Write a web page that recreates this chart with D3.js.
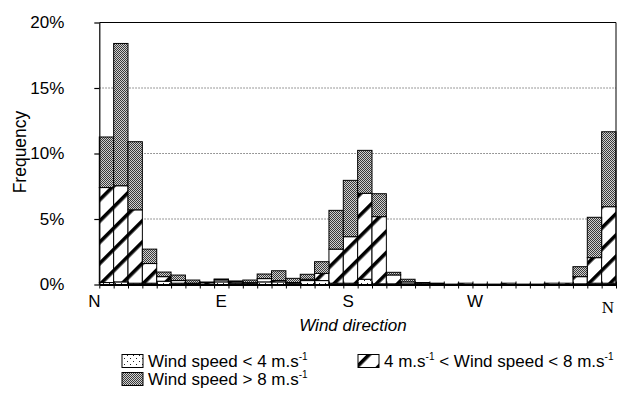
<!DOCTYPE html>
<html>
<head>
<meta charset="utf-8">
<script src="https://cdn.jsdelivr.net/npm/d3@7"></script>
<style>
  body { margin: 0; background: #fff; }
  svg { display: block; }
  text { font-family: "Liberation Sans", Arial, Helvetica, sans-serif; fill: #000; }
</style>
</head>
<body>
<svg id="chart" width="627" height="397"></svg>
<script>
// Wind direction sectors (start of each 10° bin)
const directionBins = [0, 10, 20, 30, 40, 50, 60, 70, 80, 90, 100, 110,
  120, 130, 140, 150, 160, 170, 180, 190, 200, 210, 220, 230,
  240, 250, 260, 270, 280, 290, 300, 310, 320, 330, 340, 350];
const binWidth = 10;

// Frequency (%) per sector for each wind-speed class
const speedLow = [0.15, 0.2, 0.1, 0.1, 0.25, 0.1, 0.05, 0.02, 0.2, 0.1, 0.1, 0.2,
  0.2, 0.1, 0.3, 0.3, 0.1, 0.1, 0.4, 0.05, 0.05, 0.05, 0, 0,
  0, 0, 0, 0, 0, 0, 0, 0, 0, 0.05, 0.1, 0.1];
const speedMid = [7.25, 7.34, 5.6, 1.5, 0.35, 0.2, 0.05, 0.12, 0.15, 0.1, 0.04, 0.25,
  0.1, 0.05, 0.1, 0.55, 2.6, 3.55, 6.56, 5.13, 0.68, 0.15, 0.1, 0.08,
  0.03, 0.1, 0.03, 0.03, 0.1, 0.03, 0.03, 0.1, 0.1, 0.55, 1.95, 5.84];
const speedHigh = [3.86, 10.86, 5.2, 1.1, 0.35, 0.42, 0.24, 0.05, 0.07, 0.07, 0.2, 0.35,
  0.75, 0.32, 0.38, 0.89, 2.96, 4.3, 3.28, 1.75, 0.2, 0.2, 0.05, 0.02,
  0, 0, 0, 0, 0, 0, 0, 0, 0, 0.76, 3.08, 5.72];

const yTicks = [0, 5, 10, 15, 20];
const compassTicks = [0, 90, 180, 270, 360];
const compassLabels = ["N", "E", "S", "W", "N"];
const seriesKeys = ["low", "mid", "high"];

const svg = d3.select("#chart");
const plot = { left: 99.3, right: 616, top: 22.5, bottom: 284.5 };

const x = d3.scaleLinear().domain([0, 360]).range([plot.left, plot.right]);
const y = d3.scaleLinear().domain([0, 20]).range([plot.bottom, plot.top]);

// ---- fill patterns ----
const defs = svg.append("defs");

// sparse dots for the lowest speed class
const pDots = defs.append("pattern").attr("id", "pat-low")
  .attr("patternUnits", "userSpaceOnUse").attr("width", 6).attr("height", 6);
pDots.append("rect").attr("width", 6).attr("height", 6).attr("fill", "#fff");
pDots.append("rect").attr("x", 1).attr("y", 1).attr("width", 1).attr("height", 1).attr("fill", "#222");
pDots.append("rect").attr("x", 4).attr("y", 4).attr("width", 1).attr("height", 1).attr("fill", "#222");

// bold diagonal stripes for the middle class
const pStripe = defs.append("pattern").attr("id", "pat-mid")
  .attr("patternUnits", "userSpaceOnUse").attr("width", 15).attr("height", 15)
  .attr("patternTransform", "rotate(45)");
pStripe.append("rect").attr("width", 15).attr("height", 15).attr("fill", "#fff");
pStripe.append("rect").attr("x", 0).attr("width", 3.6).attr("height", 15).attr("fill", "#000");

// fine grey stipple for the strongest winds
const pGrey = defs.append("pattern").attr("id", "pat-high")
  .attr("patternUnits", "userSpaceOnUse").attr("width", 2).attr("height", 2);
pGrey.append("rect").attr("width", 2).attr("height", 2).attr("fill", "#d0d0d0");
pGrey.append("rect").attr("x", 0).attr("y", 0).attr("width", 1).attr("height", 1).attr("fill", "#3a3a3a");
pGrey.append("rect").attr("x", 1).attr("y", 1).attr("width", 1).attr("height", 1).attr("fill", "#3a3a3a");

const fills = { low: "url(#pat-low)", mid: "url(#pat-mid)", high: "url(#pat-high)" };

// ---- grid lines ----
svg.append("g").selectAll("line")
  .data(yTicks.filter(t => t > 0 && t < 20))
  .join("line")
  .attr("x1", plot.left).attr("x2", plot.right)
  .attr("y1", d => y(d)).attr("y2", d => y(d))
  .attr("stroke", "#555").attr("stroke-width", 0.8)
  .attr("stroke-dasharray", "1.5,1.5");

// ---- stacked bars ----
const rows = directionBins.map((d, i) => ({
  dir: d, low: speedLow[i], mid: speedMid[i], high: speedHigh[i]
}));
const stacked = d3.stack().keys(seriesKeys)(rows);

svg.append("g").selectAll("g")
  .data(stacked)
  .join("g")
  .attr("fill", s => fills[s.key])
  .selectAll("rect")
  .data(s => s.filter(v => v[1] - v[0] > 0))
  .join("rect")
  .attr("x", v => x(v.data.dir))
  .attr("width", v => x(v.data.dir + binWidth) - x(v.data.dir))
  .attr("y", v => y(v[1]))
  .attr("height", v => y(v[0]) - y(v[1]))
  .attr("stroke", "#000").attr("stroke-width", 1);

// ---- frame (top and right) ----
svg.append("line").attr("x1", plot.left).attr("x2", plot.right)
  .attr("y1", y(20)).attr("y2", y(20)).attr("stroke", "#000").attr("stroke-width", 1);
svg.append("line").attr("x1", plot.right).attr("x2", plot.right)
  .attr("y1", y(20)).attr("y2", y(0)).attr("stroke", "#000").attr("stroke-width", 1);

// ---- y axis ----
const yAxis = svg.append("g")
  .attr("transform", `translate(${plot.left},0)`)
  .call(d3.axisLeft(y).tickValues(yTicks).tickFormat(d => d + "%")
    .tickSize(5).tickSizeOuter(0).tickPadding(30));
yAxis.select(".domain").attr("stroke", "#000").attr("stroke-width", 1.2);
yAxis.selectAll(".tick line").attr("stroke", "#000").attr("stroke-width", 1.2);
yAxis.selectAll(".tick text").attr("font-size", 17)
  .attr("font-family", "'Liberation Sans', Arial, sans-serif").attr("fill", "#000");

// ---- x axis: baseline with a tick at every sector edge ----
const edges = directionBins.concat([360]);
const xAxis = svg.append("g")
  .attr("transform", `translate(0,${plot.bottom})`)
  .call(d3.axisBottom(x).tickValues(edges).tickFormat("").tickSize(4).tickSizeOuter(0));
xAxis.select(".domain").attr("stroke", "#000").attr("stroke-width", 2);
xAxis.selectAll(".tick line").attr("y1", -3).attr("stroke", "#000").attr("stroke-width", 1);

// compass labels (the closing N is set in a serif face)
const lastIdx = compassTicks.length - 1;
svg.append("g").selectAll("text")
  .data(compassTicks)
  .join("text")
  .attr("x", (d, i) => i === lastIdx ? x(d) - 2 : x(d) - 5 - d * 0.025)
  .attr("y", (d, i) => i === lastIdx ? 313 : 307)
  .attr("text-anchor", (d, i) => i === lastIdx ? "end" : "middle")
  .attr("font-size", 17)
  .style("font-family", (d, i) => i === lastIdx ? "'Liberation Serif', 'Times New Roman', serif" : null)
  .text((d, i) => compassLabels[i]);

// axis titles
svg.append("text")
  .attr("x", 353).attr("y", 331)
  .attr("text-anchor", "middle")
  .attr("font-size", 17).attr("font-style", "italic")
  .text("Wind direction");

svg.append("text")
  .attr("transform", "translate(25.5,152) rotate(-90)")
  .attr("text-anchor", "middle")
  .attr("font-size", 17.5)
  .text("Frequency");

// ---- legend ----
const legendItems = [
  { key: "low", x: 122, y: 367, parts: [["Wind speed < 4 m.s", false], ["-1", true]] },
  { key: "mid", x: 358, y: 367, parts: [["4 m.s", false], ["-1", true], [" < Wind speed < 8 m.s", false], ["-1", true]] },
  { key: "high", x: 122, y: 385, parts: [["Wind speed > 8 m.s", false], ["-1", true]] }
];
const legend = svg.append("g").selectAll("g").data(legendItems).join("g");
legend.append("rect")
  .attr("x", d => d.x).attr("y", d => d.y - 12.5)
  .attr("width", 21).attr("height", 13)
  .attr("fill", d => fills[d.key]).attr("stroke", "#000").attr("stroke-width", 1);
legend.append("text")
  .attr("x", d => d.x + 26).attr("y", d => d.y)
  .attr("font-size", 17)
  .each(function(d) {
    const t = d3.select(this);
    d.parts.forEach(([str, sup], i) => {
      const span = t.append("tspan").text(str);
      if (sup) span.attr("font-size", 10).attr("dy", -7);
      else if (i > 0 && d.parts[i - 1][1]) span.attr("dy", 7);
    });
  });
</script>
</body>
</html>
